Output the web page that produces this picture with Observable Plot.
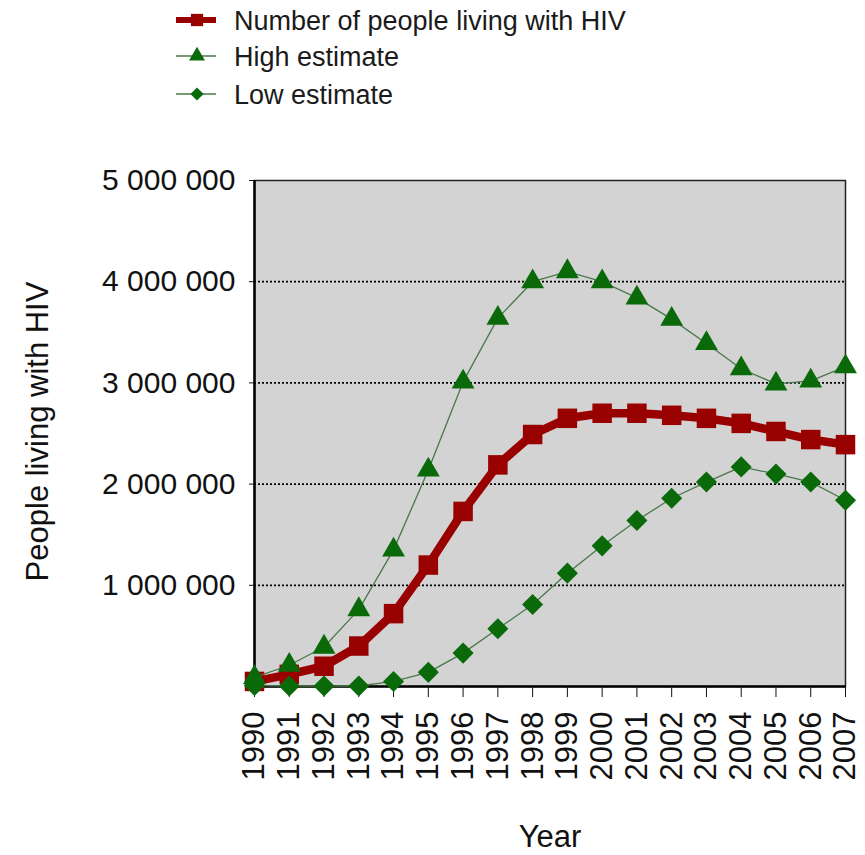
<!DOCTYPE html>
<html>
<head>
<meta charset="utf-8">
<script src="https://cdn.jsdelivr.net/npm/d3@7"></script>
<script src="https://cdn.jsdelivr.net/npm/@observablehq/plot@0.6"></script>
<style>
  html, body { margin: 0; padding: 0; background: #fff; }
  body { width: 865px; font-family: Arial, "Liberation Sans", sans-serif; }
  #legend, #chart { display: block; line-height: 0; }
  svg { display: block; }
  #chart svg [aria-label="y-axis tick label"] { font-size: 30px; }
  #chart svg [aria-label="x-axis tick label"] { font-size: 31px; }
</style>
</head>
<body>
<div id="legend"></div>
<div id="chart"></div>
<script>
const years = [1990,1991,1992,1993,1994,1995,1996,1997,1998,1999,2000,2001,2002,2003,2004,2005,2006,2007];
const numberLiving = [50000,120000,200000,400000,720000,1200000,1730000,2190000,2490000,2650000,2700000,2700000,2680000,2650000,2600000,2520000,2440000,2390000];
const highEstimate = [90000,210000,390000,760000,1350000,2140000,3010000,3640000,4000000,4100000,4000000,3840000,3630000,3390000,3140000,2990000,3020000,3160000];
const lowEstimate = [10000,5000,5000,5000,50000,140000,330000,570000,810000,1120000,1390000,1640000,1860000,2020000,2170000,2100000,2020000,1840000];
const seriesNames = ["Number of people living with HIV", "High estimate", "Low estimate"];
const yTickValues = [1000000, 2000000, 3000000, 4000000, 5000000];
const yTickLabels = ["1 000 000", "2 000 000", "3 000 000", "4 000 000", "5 000 000"];
const xLabel = "Year";
const yLabel = "People living with HIV";

const RED = "#990000";
const GREEN = "#0a6a0a";
const GREEN_LINE = "#4a784a";
const FONT = 'Arial, "Liberation Sans", sans-serif';

// Legend (above the chart)
const legendH = 120;
const lg = d3.select("#legend").append("svg")
  .attr("width", 865).attr("height", legendH)
  .style("font-family", FONT);
const rows = [
  {name: seriesNames[0], cy: 20, stroke: RED, sw: 6, sym: d3.symbolSquare, size: 150, fill: RED},
  {name: seriesNames[1], cy: 56, stroke: GREEN_LINE, sw: 1.3, sym: d3.symbolTriangle, size: 110, fill: GREEN},
  {name: seriesNames[2], cy: 94, stroke: GREEN_LINE, sw: 1.3, sym: d3.symbolDiamond2, size: 110, fill: GREEN}
];
for (const r of rows) {
  lg.append("line").attr("x1", 176).attr("x2", 216).attr("y1", r.cy).attr("y2", r.cy)
    .attr("stroke", r.stroke).attr("stroke-width", r.sw);
  lg.append("path").attr("d", d3.symbol(r.sym, r.size)()).attr("transform", `translate(197,${r.cy})`)
    .attr("fill", r.fill);
  lg.append("text").attr("x", 234).attr("y", r.cy).attr("dy", "0.36em")
    .attr("font-size", 27).attr("fill", "#1a1a1a").text(r.name);
}

const data = years.map((year, i) => ({year, number: numberLiving[i], high: highEstimate[i], low: lowEstimate[i]}));
const fmt = new Map(yTickValues.map((v, i) => [v, yTickLabels[i]]));

const chart = Plot.plot({
  width: 865,
  height: 855 - legendH,
  marginTop: 60,
  marginBottom: 855 - legendH - 566,
  marginLeft: 254,
  marginRight: 20,
  style: {fontFamily: FONT, fontSize: "30px", color: "#111", background: "#fff"},
  x: {domain: [1990, 2007]},
  y: {domain: [0, 5000000]},
  marks: [
    Plot.frame({fill: "#d3d3d3", stroke: "none"}),
    Plot.ruleY(yTickValues.slice(0, 4), {stroke: "#000", strokeWidth: 1.8, strokeDasharray: "2 2", x1: 1990, x2: 2007}),
    Plot.frame({stroke: "#222", strokeWidth: 1.5}),
    Plot.ruleX([1990], {stroke: "#000", strokeWidth: 2.5}),
    Plot.ruleY([0], {stroke: "#000", strokeWidth: 2.5}),
    Plot.axisY({ticks: yTickValues, tickFormat: d => fmt.get(d), tickSize: 5, tickPadding: 14, label: null, fontSize: 30}),
    Plot.axisX({ticks: years, tickFormat: d => String(d), tickSize: 11, tickPadding: 14, tickRotate: -90, label: null, fontSize: 31}),
    Plot.text([yLabel], {frameAnchor: "left", textAnchor: "middle", dx: -216, dy: -2, rotate: -90, fontSize: 31, fill: "#111"}),
    Plot.text([xLabel], {frameAnchor: "bottom", dy: 160, fontSize: 31, fill: "#111"}),
    Plot.line(data, {x: "year", y: "number", stroke: RED, strokeWidth: 8.5}),
    Plot.dot(data, {x: "year", y: "number", symbol: "square", r: 11, fill: RED}),
    Plot.line(data, {x: "year", y: "high", stroke: GREEN_LINE, strokeWidth: 1.3}),
    Plot.dot(data, {x: "year", y: "high", symbol: "triangle", r: 8.5, fill: GREEN}),
    Plot.line(data, {x: "year", y: "low", stroke: GREEN_LINE, strokeWidth: 1.3}),
    Plot.dot(data, {x: "year", y: "low", symbol: "diamond2", r: 9.5, fill: GREEN})
  ]
});
document.getElementById("chart").appendChild(chart);
</script>
</body>
</html>
